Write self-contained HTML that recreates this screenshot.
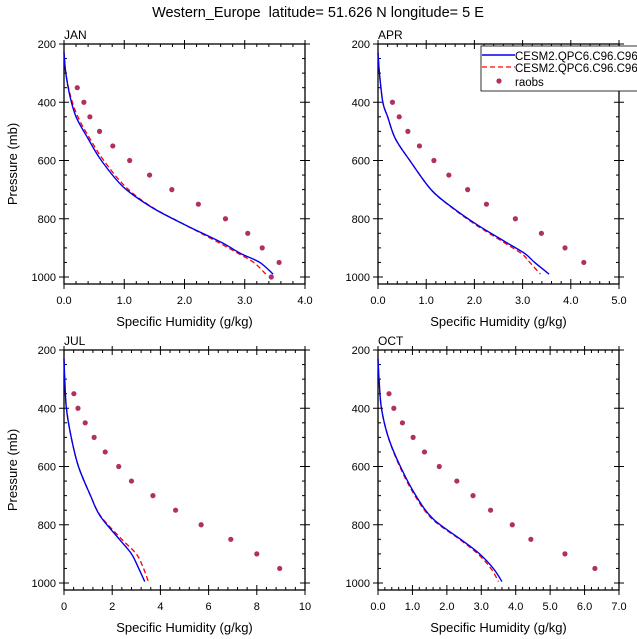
<!DOCTYPE html>
<html><head><meta charset="utf-8"><style>
html,body{margin:0;padding:0;background:#fff;}
svg{display:block;font-family:"Liberation Sans",sans-serif;}
</style></head><body>
<svg id="c" width="637" height="639" viewBox="0 0 637 639">
<text x="318" y="17" text-anchor="middle" font-size="14.5">Western_Europe&#160; latitude= 51.626 N longitude= 5 E</text>
</svg>
<script>
// ---- data ----
const panelNames = ["JAN","APR","JUL","OCT"];
const xMaxes = [4, 5, 10, 7];
const xTickLabels = [["0.0","1.0","2.0","3.0","4.0"],["0.0","1.0","2.0","3.0","4.0","5.0"],["0","2","4","6","8","10"],["0.0","1.0","2.0","3.0","4.0","5.0","6.0","7.0"]];
const xTickValues = [[0,1,2,3,4],[0,1,2,3,4,5],[0,2,4,6,8,10],[0,1,2,3,4,5,6,7]];
const yTickValues = [200,400,600,800,1000];
const raobsP = [[350,400,450,500,550,600,650,700,750,800,850,900,950,1000],[400,450,500,550,600,650,700,750,800,850,900,950],[350,400,450,500,550,600,650,700,750,800,850,900,950],[350,400,450,500,550,600,650,700,750,800,850,900,950]];
const raobsQ = [[0.22,0.33,0.43,0.59,0.81,1.09,1.42,1.79,2.23,2.68,3.05,3.29,3.57,3.44],[0.30,0.44,0.62,0.86,1.16,1.47,1.86,2.25,2.85,3.39,3.88,4.27],[0.41,0.58,0.88,1.25,1.71,2.27,2.80,3.69,4.63,5.69,6.92,8.0,8.95],[0.32,0.46,0.71,1.02,1.35,1.78,2.29,2.76,3.27,3.9,4.44,5.43,6.3]];
const modelP = [[230,300,380,450,525,600,690,760,820,880,920,950,990],[230,300,400,450,525,600,700,760,820,880,920,950,990],[230,300,400,500,600,700,770,850,900,950,995],[230,300,400,500,600,700,780,850,900,950,995]];
const blueQ = [[0,0.03,0.1,0.2,0.4,0.62,0.98,1.45,2.0,2.6,2.94,3.25,3.47],[0,0.03,0.1,0.2,0.36,0.66,1.1,1.53,2.05,2.65,3.05,3.25,3.55],[0,0.03,0.1,0.3,0.6,1.1,1.5,2.3,2.8,3.1,3.35],[0,0.03,0.1,0.3,0.65,1.1,1.6,2.4,2.95,3.35,3.6]];
const redQ = [[0,0.03,0.11,0.23,0.43,0.66,1.02,1.46,2.0,2.55,2.9,3.15,3.35],[0,0.03,0.1,0.2,0.36,0.66,1.1,1.52,2.02,2.6,2.98,3.15,3.37],[0,0.03,0.1,0.3,0.6,1.1,1.52,2.4,3.0,3.3,3.5],[0,0.03,0.1,0.3,0.63,1.07,1.57,2.37,2.9,3.28,3.5]];
const legendLabels = ["CESM2.QPC6.C96.C96","CESM2.QPC6.C96.C96","raobs"];

// ---- layout ----
const NS="http://www.w3.org/2000/svg";
const svg=document.getElementById('c');
function mk(tag,attrs,parent){const e=document.createElementNS(NS,tag);for(const k in attrs)e.setAttribute(k,attrs[k]);(parent||svg).appendChild(e);return e;}
function smooth(pts){let d='M'+pts[0][0]+','+pts[0][1];
  for(let k=0;k<pts.length-1;k++){const p0=pts[k-1]||pts[k],p1=pts[k],p2=pts[k+1],p3=pts[k+2]||p2;
    const c1=[p1[0]+(p2[0]-p0[0])/6,p1[1]+(p2[1]-p0[1])/6],c2=[p2[0]-(p3[0]-p1[0])/6,p2[1]-(p3[1]-p1[1])/6];
    d+=' C'+c1[0]+','+c1[1]+' '+c2[0]+','+c2[1]+' '+p2[0]+','+p2[1];}
  return d;}
const boxes=[{x0:64,x1:305,y0:44,yb:284},{x0:378,x1:619,y0:44,yb:284},{x0:64,x1:305,y0:350,yb:590},{x0:378,x1:619,y0:350,yb:590}];
const pMin=200,pMax=1024;
boxes.forEach((b,i)=>{
  const g=mk('g',{});
  
  
  const xs=v=>b.x0+(b.x1-b.x0)*v/xMaxes[i];
  const ys=p=>b.y0+(b.yb-b.y0)*(p-pMin)/(pMax-pMin);
  const frame=mk('rect',{x:b.x0,y:b.y0,width:b.x1-b.x0,height:b.yb-b.y0,fill:'none',stroke:'#000','stroke-width':1.3},g);
  
  
  const t=mk('text',{x:b.x0,y:b.y0-5,'font-size':12},g);t.textContent=panelNames[i];
  
  
  for(let p=250;p<=1000;p+=50){const y=ys(p);const maj=yTickValues.includes(p);
    mk('line',{x1:b.x0-(maj?5:0),x2:b.x0+(maj?5:3),y1:y,y2:y,stroke:'#000','stroke-width':1},g);
    mk('line',{x1:b.x1+(maj?5:0),x2:b.x1-(maj?5:3),y1:y,y2:y,stroke:'#000','stroke-width':1},g);}
  mk('line',{x1:b.x0-5,x2:b.x0+5,y1:ys(200),y2:ys(200),stroke:'#000'},g);
  mk('line',{x1:b.x1-5,x2:b.x1+5,y1:ys(200),y2:ys(200),stroke:'#000'},g);
  yTickValues.forEach(p=>{const tt=mk('text',{x:b.x0-8,y:ys(p)+4,'font-size':11,'text-anchor':'end'},g);tt.textContent=p;
    
    });
  const step=xTickValues[i][1]-xTickValues[i][0];
  const minorStep=step/5;
  for(let v=0;v<=xMaxes[i]+1e-9;v+=minorStep){const x=xs(v);const maj=Math.abs(v/step-Math.round(v/step))<1e-6;
    mk('line',{x1:x,x2:x,y1:b.yb+(maj?5:0),y2:b.yb-(maj?5:3),stroke:'#000'},g);
    mk('line',{x1:x,x2:x,y1:b.y0-(maj?4:0),y2:b.y0+(maj?5:3),stroke:'#000'},g);}
  xTickValues[i].forEach((v,k)=>{const tt=mk('text',{x:xs(v),y:b.yb+20,'font-size':11,'text-anchor':'middle'},g);tt.textContent=xTickLabels[i][k];
    
    });
  const xt=mk('text',{x:(b.x0+b.x1)/2,y:b.yb+42,'font-size':13,'text-anchor':'middle'},g);xt.textContent='Specific Humidity (g/kg)';
  
  
  if(i%2===0){const yt=mk('text',{x:0,y:0,'font-size':13,'text-anchor':'middle',transform:`translate(17,${(b.y0+b.yb)/2}) rotate(-90)`},g);yt.textContent='Pressure (mb)';
    
    }
  const red=mk('path',{d:smooth(modelP[i].map((p,k)=>[xs(redQ[i][k]),ys(p)])),fill:'none',stroke:'#ff0000','stroke-width':1.3,'stroke-dasharray':'5,3'},g);
  
  
  const blue=mk('path',{d:smooth(modelP[i].map((p,k)=>[xs(blueQ[i][k]),ys(p)])),fill:'none',stroke:'#0000ee','stroke-width':1.4},g);
  
  
  raobsP[i].forEach((p,k)=>{const c=mk('circle',{cx:xs(raobsQ[i][k]),cy:ys(p),r:2.6,fill:'#b03060'},g);
    
    });
});
const lg=mk('g',{});


mk('rect',{x:481,y:46,width:170,height:45,fill:'#fff',stroke:'#000','stroke-width':0.8},lg);
mk('line',{x1:482,x2:515,y1:55,y2:55,stroke:'#0000ee','stroke-width':1.4},lg);
mk('line',{x1:482,x2:515,y1:67,y2:67,stroke:'#ff0000','stroke-width':1.3,'stroke-dasharray':'5,3'},lg);
mk('circle',{cx:499,cy:81,r:2.6,fill:'#b03060'},lg);
[56,68,82].forEach((y,k)=>{const t=mk('text',{x:515,y:y+4,'font-size':11.5},lg);t.textContent=legendLabels[k];
  
  });
</script>
</body></html>
